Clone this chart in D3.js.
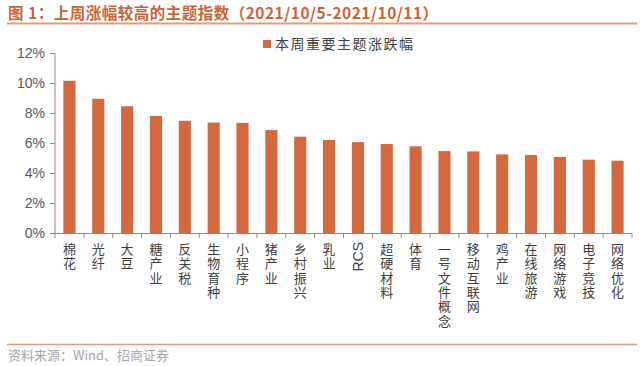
<!DOCTYPE html>
<html>
<head>
<meta charset="utf-8">
<script src="https://cdn.jsdelivr.net/npm/d3@7"></script>
<style>
  body { margin: 0; background: #fff; }
  svg { display: block; font-family: "Noto Sans CJK SC", "Liberation Sans", sans-serif; }
</style>
</head>
<body>
<div id="chart"></div>
<script>

var categories = ["棉花", "光纤", "大豆", "糖产业", "反关税", "生物育种", "小程序", "猪产业", "乡村振兴", "乳业",
                  "RCS", "超硬材料", "体育", "一号文件概念", "移动互联网", "鸡产业", "在线旅游", "网络游戏", "电子竞技", "网络优化"];
var values = [10.15, 8.95, 8.45, 7.8, 7.48, 7.36, 7.34, 6.86, 6.42, 6.2,
              6.06, 5.93, 5.78, 5.46, 5.44, 5.24, 5.2, 5.07, 4.89, 4.82];
var yTicks = [0, 2, 4, 6, 8, 10, 12];
var titleText  = "图 1：上周涨幅较高的主题指数（2021/10/5-2021/10/11）";
var legendText = "本周重要主题涨跌幅";
var sourceText = "资料来源：Wind、招商证券";

var W = 640, H = 366;
var plot = {left: 55, right: 632, top: 53, bottom: 233};
var barColor = "#d4693f";

var svg = d3.select("#chart").append("svg")
            .attr("width", W)
            .attr("height", H);

// header
svg.append("text")
   .attr("x", 8).attr("y", 19)
   .attr("font-size", 15.5).attr("font-weight", "bold")
   .attr("letter-spacing", 0.5)
   .attr("fill", "#cc6335")
   .text(titleText);

svg.append("line")
   .attr("x1", 7).attr("x2", 637).attr("y1", 23.5).attr("y2", 23.5)
   .attr("stroke", "#e29a7e").attr("stroke-width", 2);

// legend
svg.append("rect")
   .attr("x", 263).attr("y", 40).attr("width", 8).attr("height", 8)
   .attr("fill", barColor);
svg.append("text")
   .attr("x", 275).attr("y", 49)
   .attr("font-size", 14).attr("letter-spacing", 1.5)
   .attr("fill", "#404040")
   .text(legendText);

// scales
var XScale = d3.scaleBand().domain(categories).range([plot.left, plot.right]).paddingInner(0.58).paddingOuter(0.29);
var YScale = d3.scaleLinear().domain([0, 12]).range([plot.bottom, plot.top]);

// y axis
var YAxis = d3.axisLeft(YScale)
              .tickValues(yTicks)
              .tickFormat(function (d) { return d + "%"; })
              .tickSize(5).tickPadding(5);

var gy = svg.append("g")
   .attr("transform", "translate(" + plot.left + ",0)")
   .call(YAxis);
gy.select(".domain").attr("stroke", "#8c8c8c").attr("d", "M0," + plot.top + "V" + plot.bottom);
gy.selectAll(".tick line").attr("stroke", "#8c8c8c");
gy.selectAll(".tick text")
  .attr("font-size", 14).attr("fill", "#595959")
  .attr("font-family", "Liberation Sans, Arial, sans-serif");

// bars
svg.selectAll(".bar")
   .data(values)
   .enter().append("rect")
   .attr("class", "bar")
   .attr("x", function (d, i) { return XScale(categories[i]); })
   .attr("width", XScale.bandwidth())
   .attr("y", function (d) { return YScale(d); })
   .attr("height", function (d) { return YScale(0) - YScale(d); })
   .attr("fill", barColor);

// x axis line and ticks at band boundaries
var step = XScale.step();
var gx = svg.append("g").attr("class", "x-axis");
gx.append("line")
  .attr("x1", plot.left).attr("x2", plot.right)
  .attr("y1", plot.bottom + 0.5).attr("y2", plot.bottom + 0.5)
  .attr("stroke", "#8c8c8c");
gx.selectAll(".xtick")
  .data(d3.range(categories.length + 1))
  .enter().append("line")
  .attr("class", "xtick")
  .attr("x1", function (i) { return plot.left + i * step; })
  .attr("x2", function (i) { return plot.left + i * step; })
  .attr("y1", plot.bottom).attr("y2", plot.bottom + 5)
  .attr("stroke", "#8c8c8c");

// vertical category labels: one text per character, latin words rotated
var charStep = 14.3;
categories.forEach(function (c, i) {
  var cx = XScale(c) + XScale.bandwidth() / 2;
  if (/^[A-Za-z]+$/.test(c)) {
    svg.append("text")
       .attr("transform", "translate(" + (cx + 5) + "," + (plot.bottom + 9) + ") rotate(-90)")
       .attr("text-anchor", "end")
       .attr("font-size", 14)
       .attr("font-family", "Liberation Sans, Arial, sans-serif")
       .attr("fill", "#404040")
       .text(c);
  } else {
    svg.selectAll(null)
       .data(c.split(""))
       .enter().append("text")
       .attr("class", "xlabel")
       .attr("text-anchor", "middle")
       .attr("font-size", 13)
       .attr("fill", "#404040")
       .attr("x", cx)
       .attr("y", function (ch, k) { return plot.bottom + 21 + k * charStep; })
       .text(function (ch) { return ch; });
  }
});

// footer
svg.append("line")
   .attr("x1", 7).attr("x2", 637).attr("y1", 344.5).attr("y2", 344.5)
   .attr("stroke", "#e29a7e").attr("stroke-width", 1.5);

svg.append("text")
   .attr("x", 8).attr("y", 360)
   .attr("font-size", 13)
   .attr("fill", "#a6a6a6")
   .text(sourceText);

</script>
</body>
</html>
